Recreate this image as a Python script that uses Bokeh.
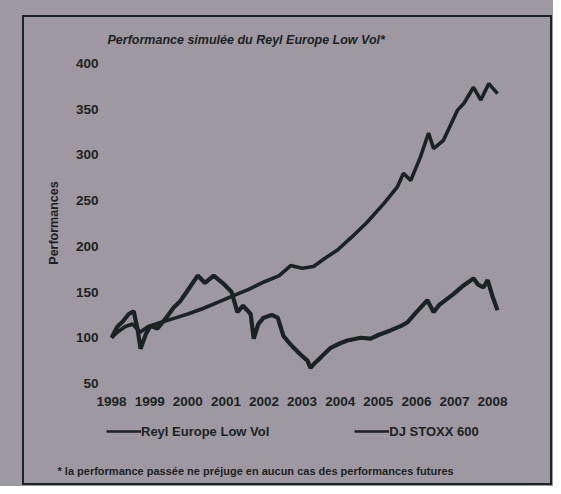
from bokeh.plotting import figure
from bokeh.layouts import column
from bokeh.models import (Range1d, FixedTicker, Legend, LegendItem, Title, Label)
from bokeh.embed import file_html
from bokeh.resources import INLINE

# ---- data ----
reyl_dates = [1998.00, 1998.15, 1998.35, 1998.55, 1998.75, 1998.95, 1999.3, 1999.7,
              2000.0, 2000.4, 2000.8, 2001.2, 2001.6, 2002.0, 2002.4, 2002.7,
              2003.0, 2003.3, 2003.6, 2003.93, 2004.3, 2004.7, 2005.15, 2005.5,
              2005.66, 2005.85, 2006.1, 2006.32, 2006.45, 2006.71, 2007.08,
              2007.24, 2007.5, 2007.69, 2007.9, 2008.13]
reyl_values = [100, 106, 112, 115, 106, 112, 117, 122,
               126, 132, 139, 146, 153, 161, 168, 179,
               176, 178, 187, 196, 210, 226, 247, 265,
               280, 272, 297, 324, 307, 316, 349,
               356, 374, 360, 378, 367]

stoxx_dates = [1998.00, 1998.15, 1998.3, 1998.45, 1998.58, 1998.68, 1998.76, 1998.9,
               1999.02, 1999.2, 1999.4, 1999.63, 1999.8, 2000.0, 2000.26, 2000.45,
               2000.68, 2000.94, 2001.15, 2001.3, 2001.45, 2001.65, 2001.73, 2001.85,
               2001.99, 2002.2, 2002.36, 2002.51, 2002.65, 2002.78, 2002.95, 2003.14,
               2003.22, 2003.35, 2003.48, 2003.75, 2004.0, 2004.19, 2004.54, 2004.8,
               2005.0, 2005.32, 2005.6, 2005.77, 2006.0, 2006.29, 2006.45, 2006.6,
               2006.98, 2007.2, 2007.5, 2007.62, 2007.76, 2007.87, 2008.0, 2008.13]
stoxx_values = [100, 112, 118, 126, 129, 110, 88, 104,
                113, 110, 120, 133, 140, 152, 168, 160,
                168, 159, 150, 128, 135, 126, 99, 115,
                122, 125, 122, 102, 95, 89, 82, 75,
                67, 73, 78, 89, 94, 97, 100, 99,
                103, 108, 113, 117, 128, 141, 128, 136,
                148, 156, 165, 158, 155, 163, 145, 130]

y_ticks = [50, 100, 150, 200, 250, 300, 350, 400]
x_ticks = [1998, 1999, 2000, 2001, 2002, 2003, 2004, 2005, 2006, 2007, 2008]

title_text = "Performance simulée du Reyl Europe Low Vol*"
y_label = "Performances"
series_names = ["Reyl Europe Low Vol", "DJ STOXX 600"]
footnote = "* la performance passée ne préjuge en aucun cas des performances futures"

BG = "#9e99a0"
INK = "#1b2222"
FONT = "Liberation Sans"
W = 553

# ---- main chart ----
p = figure(width=W, height=408, output_backend="svg", toolbar_location=None,
           x_range=Range1d(1997.84, 2008.47), y_range=Range1d(42.3, 408.75),
           min_border_left=105, min_border_top=55, min_border_right=43,
           min_border_bottom=18)
p.frame_align = False
p.background_fill_color = BG
p.border_fill_color = BG
p.outline_line_color = None
p.grid.visible = False

p.line(reyl_dates, reyl_values, line_color=INK, line_width=3.6)
p.line(stoxx_dates, stoxx_values, line_color=INK, line_width=4.2)

for ax in (p.xaxis[0], p.yaxis[0]):
    ax.axis_line_color = None
    ax.major_tick_line_color = None
    ax.minor_tick_line_color = None
    ax.major_label_text_font = FONT
    ax.major_label_text_font_style = "bold"
    ax.major_label_text_font_size = "13.5px"
    ax.major_label_text_color = INK

p.xaxis.ticker = FixedTicker(ticks=x_ticks)
p.yaxis.ticker = FixedTicker(ticks=y_ticks)
p.xaxis.major_label_standoff = 0
p.yaxis.major_label_standoff = 1
p.yaxis.axis_label = y_label
p.yaxis.axis_label_text_font = FONT
p.yaxis.axis_label_text_font_style = "bold"
p.yaxis.axis_label_text_font_size = "12.5px"
p.yaxis.axis_label_text_color = INK
p.yaxis.axis_label_standoff = 12

t = Title(text=title_text, align="left", offset=2, text_font=FONT,
          text_font_style="bold italic", text_font_size="12.5px",
          text_color=INK, standoff=18)
p.add_layout(t, "above")

# ---- legend + footnote strip ----
p2 = figure(width=W, height=78, output_backend="svg", toolbar_location=None,
            x_range=Range1d(0, 1), y_range=Range1d(0, 1),
            x_axis_location=None, y_axis_location=None,
            min_border_left=0, min_border_right=0, min_border_top=0,
            min_border_bottom=0)
p2.frame_align = False
p2.background_fill_color = BG
p2.border_fill_color = BG
p2.outline_line_color = None
p2.grid.visible = False

# legend keys: the series' first points, outside this strip's view
k1 = p2.line(reyl_dates[:1], reyl_values[:1], line_color=INK, line_width=2.5)
k2 = p2.line(stoxx_dates[:1], stoxx_values[:1], line_color=INK, line_width=2.5)

legend = Legend(items=[LegendItem(label=series_names[0], renderers=[k1]),
                       LegendItem(label=series_names[1], renderers=[k2])],
                orientation="horizontal", location=(106, 45),
                margin=0, padding=4, spacing=85, glyph_width=35,
                label_standoff=0,
                label_text_font=FONT, label_text_font_style="bold",
                label_text_font_size="13px", label_text_color=INK,
                border_line_color=None, background_fill_alpha=0)
p2.add_layout(legend)

fn = Label(x=57, y=16, x_units="screen", y_units="screen", text=footnote,
           text_font=FONT, text_font_style="bold", text_font_size="11px",
           text_color=INK, text_baseline="middle")
p2.add_layout(fn)

page_css = (":host { background-color: #9e99a0; }"
            " :host::after { content: ''; position: absolute; left: 22px; top: 15px;"
            " right: 1px; bottom: 1px; border: 2px solid #1b2222;"
            " pointer-events: none; z-index: 10; }")
page = column(p, p2, spacing=0, stylesheets=[page_css])

open("out.html", "w").write(file_html(page, INLINE))
